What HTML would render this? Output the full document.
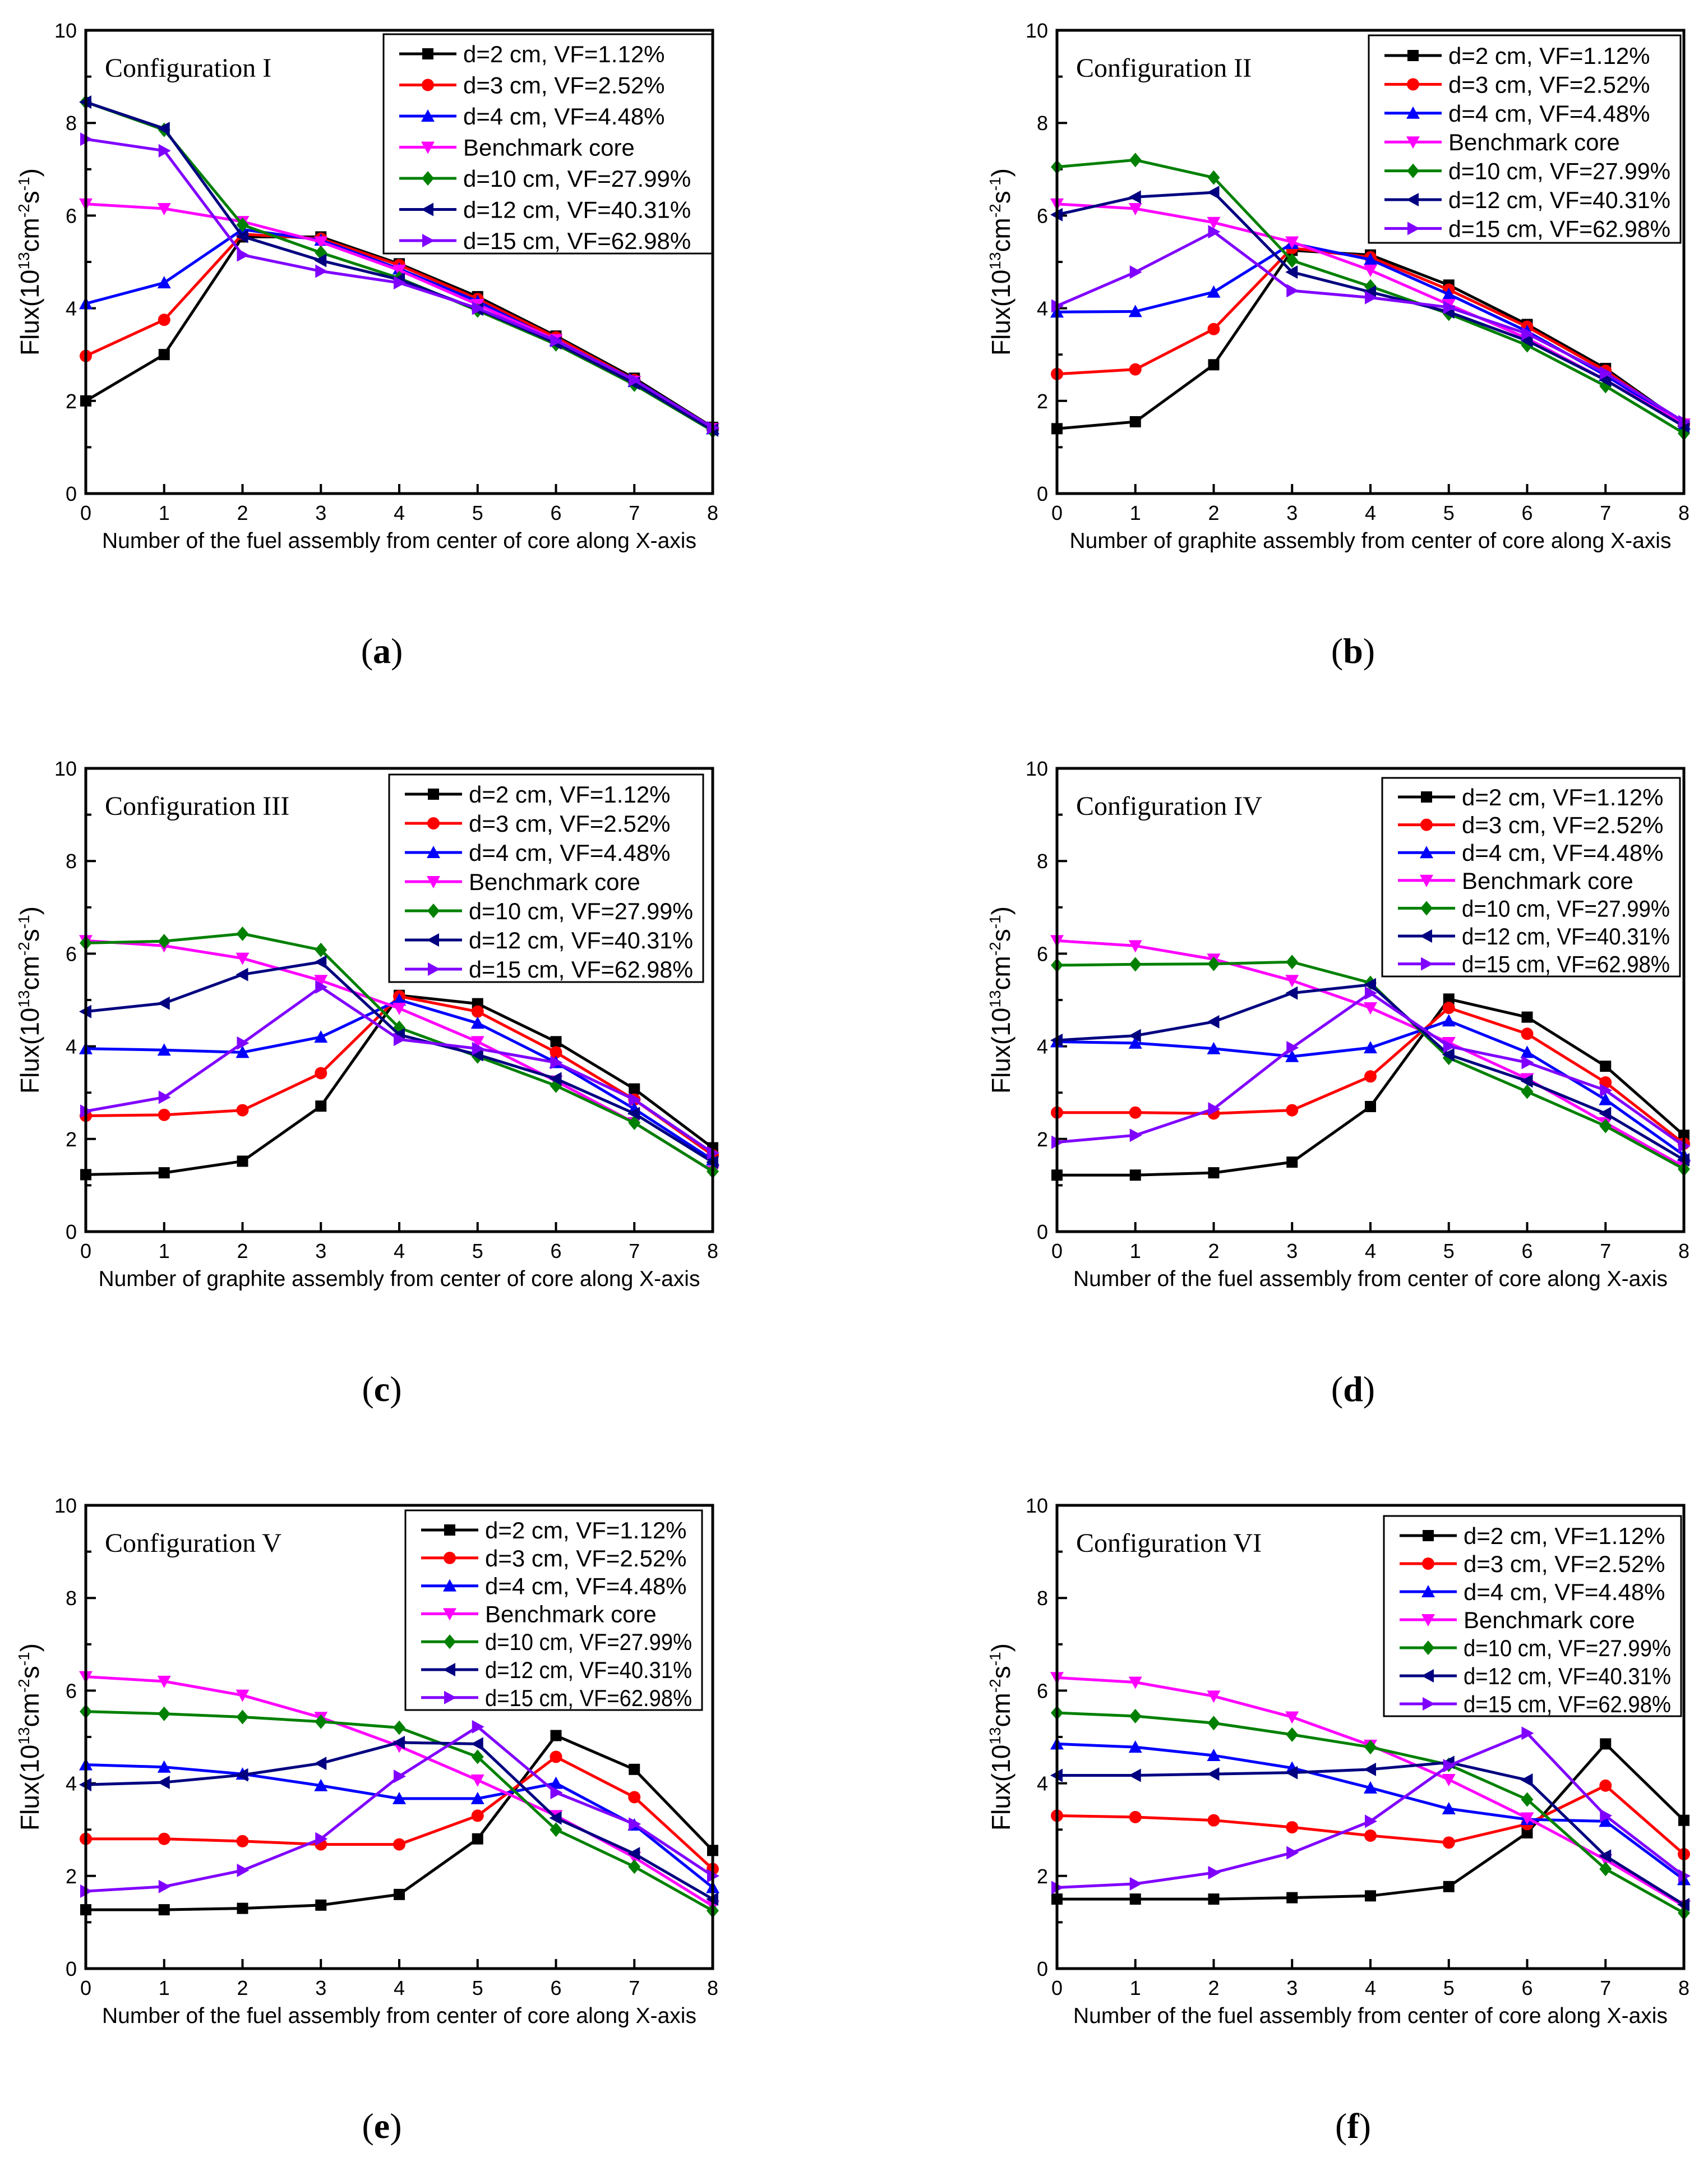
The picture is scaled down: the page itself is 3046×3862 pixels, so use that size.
<!DOCTYPE html>
<html><head><meta charset="utf-8"><style>
html,body{margin:0;padding:0;background:#fff;}
svg{display:block;}
</style></head><body>
<svg id="fig" width="3046" height="3862" viewBox="0 0 3046 3862" xmlns="http://www.w3.org/2000/svg"></svg>
<script>
// ---- data ----
const xCats = [0,1,2,3,4,5,6,7,8];
const yTicks = [0,2,4,6,8,10];
const seriesNames = ["d=2 cm, VF=1.12%","d=3 cm, VF=2.52%","d=4 cm, VF=4.48%","Benchmark core","d=10 cm, VF=27.99%","d=12 cm, VF=40.31%","d=15 cm, VF=62.98%"];
const panelConfigs = ["Configuration  I","Configuration II","Configuration  III","Configuration  IV","Configuration  V","Configuration  VI"];
const panelLetters = ["a","b","c","d","e","f"];
const xTitles = ["Number of the fuel assembly from center of core along X-axis","Number of graphite assembly from center of core along X-axis","Number of graphite assembly from center of core along X-axis","Number of the fuel assembly from center of core along X-axis","Number of the fuel assembly from center of core along X-axis","Number of the fuel assembly from center of core along X-axis"];

const dataA = [
 [2.0,3.0,5.54,5.54,4.96,4.25,3.4,2.49,1.43],
 [2.97,3.75,5.6,5.5,4.93,4.2,3.37,2.45,1.4],
 [4.1,4.55,5.7,5.47,4.85,4.15,3.3,2.42,1.4],
 [6.25,6.15,5.87,5.43,4.82,4.08,3.32,2.42,1.4],
 [8.45,7.85,5.8,5.2,4.65,3.95,3.22,2.35,1.35],
 [8.45,7.88,5.55,5.03,4.62,3.98,3.25,2.38,1.37],
 [7.65,7.4,5.15,4.8,4.55,4.0,3.3,2.45,1.42]];
const dataB = [
 [1.4,1.55,2.78,5.25,5.15,4.5,3.65,2.7,1.5],
 [2.58,2.68,3.55,5.3,5.1,4.4,3.6,2.65,1.5],
 [3.92,3.93,4.35,5.4,5.05,4.3,3.5,2.55,1.5],
 [6.25,6.15,5.85,5.43,4.82,4.08,3.35,2.45,1.5],
 [7.05,7.2,6.82,5.03,4.47,3.88,3.2,2.32,1.3],
 [6.02,6.4,6.5,4.78,4.35,3.92,3.3,2.45,1.45],
 [4.05,4.78,5.65,4.38,4.23,4.02,3.45,2.6,1.55]];
const dataC = [
 [1.23,1.27,1.52,2.71,5.1,4.92,4.1,3.08,1.81],
 [2.5,2.52,2.62,3.42,5.08,4.75,3.87,2.85,1.65],
 [3.95,3.92,3.87,4.2,5.0,4.5,3.65,2.65,1.55],
 [6.28,6.17,5.9,5.42,4.82,4.1,3.25,2.35,1.3],
 [6.23,6.27,6.43,6.08,4.4,3.78,3.15,2.35,1.3],
 [4.75,4.93,5.55,5.82,4.25,3.82,3.3,2.55,1.5],
 [2.6,2.9,4.07,5.28,4.15,3.95,3.65,2.85,1.7]];
const dataD = [
 [1.22,1.22,1.27,1.5,2.7,5.02,4.63,3.57,2.08],
 [2.57,2.57,2.55,2.62,3.35,4.83,4.27,3.22,1.9],
 [4.1,4.07,3.95,3.78,3.97,4.55,3.87,2.85,1.65],
 [6.28,6.17,5.88,5.42,4.83,4.08,3.3,2.35,1.4],
 [5.75,5.77,5.78,5.82,5.37,3.75,3.02,2.28,1.35],
 [4.13,4.23,4.53,5.15,5.33,3.82,3.25,2.55,1.55],
 [1.93,2.08,2.65,3.97,5.15,4.0,3.65,3.05,1.85]];
const dataE = [
 [1.27,1.27,1.3,1.37,1.6,2.8,5.03,4.3,2.55],
 [2.8,2.8,2.75,2.68,2.68,3.3,4.57,3.7,2.15],
 [4.4,4.35,4.2,3.95,3.67,3.67,4.0,3.1,1.75],
 [6.3,6.2,5.9,5.42,4.8,4.07,3.3,2.4,1.35],
 [5.55,5.5,5.43,5.33,5.2,4.57,3.0,2.2,1.25],
 [3.97,4.02,4.18,4.43,4.88,4.85,3.25,2.48,1.5],
 [1.67,1.77,2.12,2.8,4.15,5.22,3.8,3.12,2.0]];
const dataF = [
 [1.5,1.5,1.5,1.53,1.57,1.77,2.93,4.85,3.2],
 [3.3,3.27,3.2,3.05,2.87,2.72,3.12,3.95,2.47],
 [4.85,4.78,4.6,4.33,3.9,3.45,3.22,3.18,1.92],
 [6.28,6.18,5.88,5.43,4.82,4.08,3.25,2.35,1.35],
 [5.52,5.45,5.3,5.05,4.78,4.4,3.65,2.15,1.2],
 [4.17,4.17,4.2,4.23,4.3,4.45,4.07,2.43,1.38],
 [1.75,1.83,2.07,2.5,3.18,4.38,5.08,3.3,2.0]];
const allData = [dataA,dataB,dataC,dataD,dataE,dataF];

// ---- styles / layout ----
const colors = ["#000000","#ff0000","#0000ff","#ff00ff","#008000","#000080","#8000ff"];
const shapes = ["square","circle","up","down","diamond","left","right"];
const lefts = [153,1885];
const tops = [54,1370,2684];
const PW = 1118, PH = 826;
const legendBoxes = [[531,7,1117,398,42,55.5],[556,9,1112,379,45,51.4],[541,11,1101,381,46,52],[580,17,1111,371,51,49.6],[570,9,1099,365,44,49.8],[583,19,1113,376,54,50]];

const NS = "http://www.w3.org/2000/svg";
const svg = document.getElementById('fig');
function mk(tag, attrs, parent){
  const e = document.createElementNS(NS, tag);
  for (const k in attrs) e.setAttribute(k, attrs[k]);
  (parent||svg).appendChild(e);
  return e;
}
function marker(g, shape, cx, cy, color){
  const s = 10;
  let e;
  if (shape==="square") e = mk('rect',{x:cx-s,y:cy-s,width:2*s,height:2*s,fill:color},g);
  else if (shape==="circle") e = mk('circle',{cx:cx,cy:cy,r:s+1,fill:color},g);
  else {
    let p;
    if (shape==="up") p=[[cx,cy-s-2],[cx+s+2,cy+s],[cx-s-2,cy+s]];
    else if (shape==="down") p=[[cx,cy+s+2],[cx+s+2,cy-s],[cx-s-2,cy-s]];
    else if (shape==="diamond") p=[[cx,cy-s-3],[cx+s+1,cy],[cx,cy+s+3],[cx-s-1,cy]];
    else if (shape==="left") p=[[cx-s-2,cy],[cx+s,cy-s-2],[cx+s,cy+s+2]];
    else p=[[cx+s+2,cy],[cx-s,cy-s-2],[cx-s,cy+s+2]];
    e = mk('polygon',{points:p.map(q=>q.join(',')).join(' '),fill:color},g);
  }
  return e;
}

for (let pi=0; pi<6; pi++){
  const L = lefts[pi%2], T = tops[Math.floor(pi/2)];
  const xs = v => L + v/8*PW;
  const ys = v => T + PH - v/10*PH;
  const g = mk('g',{});
  
  

  for (let v=0; v<=10; v++){
    const len = (v%2===0)?18:10;
    const t = mk('line',{x1:L,x2:L+len,y1:ys(v),y2:ys(v),stroke:'#000','stroke-width':4},g);
    
    
  }
  yTicks.forEach(v=>{
    const t = mk('text',{x:L-16,y:ys(v)+13,'text-anchor':'end','font-family':'Liberation Sans, sans-serif','font-size':36},g);
    t.textContent = v;
    
    
  });
  xCats.forEach(v=>{
    const tk = mk('line',{x1:xs(v),x2:xs(v),y1:T+PH,y2:T+PH-17,stroke:'#000','stroke-width':4},g);
    
    
    const t = mk('text',{x:xs(v),y:T+PH+47,'text-anchor':'middle','font-family':'Liberation Sans, sans-serif','font-size':36},g);
    t.textContent = v;
    
    
  });

  const data = allData[pi];
  data.forEach((vals,si)=>{
    const sg = mk('g',{},g);
    
    
    const pts = vals.map((v,i)=>xs(xCats[i])+','+ys(v)).join(' ');
    const pl = mk('polyline',{points:pts,fill:'none',stroke:colors[si],'stroke-width':5,'stroke-linejoin':'round'},sg);
    
    
    vals.forEach((v,i)=>{
      const m = marker(sg, shapes[si], xs(xCats[i]), ys(v), colors[si]);
      
      
    });
  });

  const fr = mk('rect',{x:L,y:T,width:PW,height:PH,fill:'none',stroke:'#000','stroke-width':5},g);
  
  

  const cl = mk('text',{x:L+34,y:T+83,'font-family':'Liberation Serif, serif','font-size':48,'xml:space':'preserve'},g);
  cl.textContent = panelConfigs[pi];
  
  

  const lb = legendBoxes[pi];
  const lg = mk('g',{},g);
  
  
  const lr = mk('rect',{x:L+lb[0],y:T+lb[1],width:lb[2]-lb[0],height:lb[3]-lb[1],fill:'#fff',stroke:'#000','stroke-width':3},lg);
  
  
  const lineW = 102;
  const textX = L+lb[0]+28+lineW+12;
  const avail = L+lb[2]-18-textX;
  seriesNames.forEach((nm,si)=>{
    const y = T+lb[4]+si*lb[5];
    const x0 = L+lb[0]+28;
    const eg = mk('g',{},lg);
    
    
    mk('line',{x1:x0,x2:x0+lineW,y1:y,y2:y,stroke:colors[si],'stroke-width':5},eg);
    marker(eg, shapes[si], x0+lineW/2, y, colors[si]);
    const t = mk('text',{x:textX,y:y+15,'font-family':'Liberation Sans, sans-serif','font-size':42},eg);
    t.textContent = nm;
    const w = t.getComputedTextLength();
    if (w > avail){
      t.setAttribute('textLength', avail);
      t.setAttribute('lengthAdjust','spacingAndGlyphs');
    }
  });

  const xt = mk('text',{x:L+PW/2,y:T+PH+97,'text-anchor':'middle','font-family':'Liberation Sans, sans-serif','font-size':39},g);
  xt.textContent = xTitles[pi];
  
  
  const yt = mk('text',{x:0,y:0,'text-anchor':'middle','font-family':'Liberation Sans, sans-serif','font-size':46,transform:`translate(${L-84},${T+PH/2}) rotate(-90)`},g);
  yt.innerHTML = 'Flux(10<tspan dy="-17" font-size="28">13</tspan><tspan dy="17">cm</tspan><tspan dy="-17" font-size="28">-2</tspan><tspan dy="17">s</tspan><tspan dy="-17" font-size="28">-1</tspan><tspan dy="17">)</tspan>';
  
  

  const pl = mk('text',{x:L+528,y:T+PH+302,'text-anchor':'middle','font-family':'Liberation Serif, serif','font-size':64},g);
  pl.innerHTML = '(<tspan font-weight="bold">'+panelLetters[pi]+'</tspan>)';
  
  
}
</script>
</body></html>
